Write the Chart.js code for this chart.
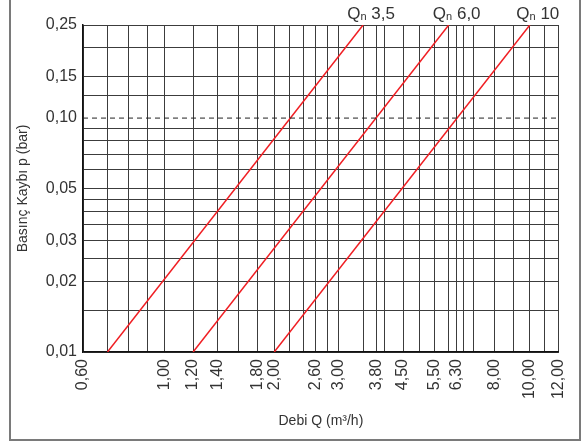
<!DOCTYPE html>
<html>
<head>
<meta charset="utf-8">
<script src="https://cdn.jsdelivr.net/npm/chart.js@4.4.1/dist/chart.umd.min.js"></script>
<style>
    body { margin: 0; background: #fff; width: 585px; height: 441px; overflow: hidden; position: relative; }
    #frame { position: absolute; left: 9px; top: -3px; width: 568px; height: 440px; border: 2px solid #7a7a7a; }
    #chart { position: absolute; left: 0; top: 0; }
</style>
</head>
<body>
<div id="frame"></div>
<canvas id="chart" width="585" height="441"></canvas>
<script>
// Kademeler (Qn) ve okunan uç noktalar
const qnNames = ['3,5', '6,0', '10'];
const qn35Flow = [0.70, 3.50];
const qn35Loss = [0.01, 0.25];
const qn60Flow = [1.20, 6.00];
const qn60Loss = [0.01, 0.25];
const qn10Flow = [2.00, 10.00];
const qn10Loss = [0.01, 0.25];

// 0,10 bar kesikli referans çizgisi
const refFlow = [0.60, 12.00];
const refLoss = [0.10, 0.10];

// Izgara çizgileri ve etiketli değerler
const xGrid = [0.6, 0.7, 0.8, 0.9, 1.0, 1.2, 1.4, 1.6, 1.8, 2.0, 2.2, 2.4, 2.6, 2.8, 3.0, 3.5, 3.8, 4.0, 4.5, 5.0, 5.5, 6.0, 6.3, 6.6, 7.0, 8.0, 9.0, 10, 11, 12];
const xLabels = [0.6, 1.0, 1.2, 1.4, 1.8, 2.0, 2.6, 3.0, 3.8, 4.5, 5.5, 6.3, 8, 10, 12];
const yGrid = [0.01, 0.015, 0.02, 0.025, 0.03, 0.035, 0.04, 0.045, 0.05, 0.06, 0.07, 0.08, 0.09, 0.10, 0.125, 0.15, 0.2, 0.25];
const yLabels = [0.01, 0.02, 0.03, 0.05, 0.10, 0.15, 0.25];

const lineRed = 'rgb(240, 30, 35)';
const gridColor = '#3c3c3c';
const textColor = '#333';

function pts(xs, ys) {
    return xs.map((x, i) => ({ x: x, y: ys[i] }));
}

function has(list, v) {
    return list.some(a => Math.abs(a - v) < 1e-9);
}

function fmt(v) {
    return v.toFixed(2).replace('.', ',');
}

// Qn etiketleri (Q + alt simge n)
const qnLabelPlugin = {
    id: 'qnLabels',
    afterDatasetsDraw(chart) {
        const ctx = chart.ctx;
        const top = chart.chartArea.top;
        ctx.save();
        ctx.fillStyle = textColor;
        ctx.textBaseline = 'alphabetic';
        chart.data.datasets.forEach((ds, i) => {
            if (!ds.qn) return;
            const meta = chart.getDatasetMeta(i);
            const p = meta.data[meta.data.length - 1];
            const big = '17px "Liberation Sans", Arial, sans-serif';
            const small = '11px "Liberation Sans", Arial, sans-serif';
            ctx.font = big;
            const wQ = ctx.measureText('Q').width;
            const wRest = ctx.measureText(' ' + ds.qn).width;
            ctx.font = small;
            const wN = ctx.measureText('n').width;
            const total = wQ + wN + wRest;
            let x = p.x + 8 - total / 2;
            const y = top - 6;
            ctx.font = big;
            ctx.fillText('Q', x, y);
            x += wQ;
            ctx.font = small;
            ctx.fillText('n', x, y + 1);
            x += wN;
            ctx.font = big;
            ctx.fillText(' ' + ds.qn, x, y);
        });
        ctx.restore();
    }
};

const redLine = (label, qn, xs, ys) => ({
    label: label,
    qn: qn,
    data: pts(xs, ys),
    borderColor: lineRed,
    borderWidth: 1.5,
    pointRadius: 0,
    fill: false,
    tension: 0
});

const ctx = document.getElementById('chart').getContext('2d');
const chart = new Chart(ctx, {
    type: 'line',
    data: {
        datasets: [
            {
                label: '0,10 bar',
                data: pts(refFlow, refLoss),
                borderColor: '#222',
                borderWidth: 1,
                borderDash: [5, 4],
                pointRadius: 0,
                fill: false
            },
            redLine('Qn 3,5', qnNames[0], qn35Flow, qn35Loss),
            redLine('Qn 6,0', qnNames[1], qn60Flow, qn60Loss),
            redLine('Qn 10', qnNames[2], qn10Flow, qn10Loss)
        ]
    },
    options: {
        responsive: false,
        animation: false,
        devicePixelRatio: 1,
        layout: { padding: { left: 0, top: 25, right: 22, bottom: 0 } },
        plugins: {
            legend: { display: false },
            tooltip: { enabled: false }
        },
        scales: {
            x: {
                type: 'logarithmic',
                min: 0.6,
                max: 12,
                afterBuildTicks: (axis) => {
                    axis.ticks = xGrid.map(v => ({ value: v }));
                },
                afterFit: (axis) => { axis.height = 89; },
                grid: {
                    color: gridColor,
                    lineWidth: 1,
                    drawTicks: false
                },
                border: { color: '#111', width: 1.5 },
                ticks: {
                    autoSkip: false,
                    minRotation: 90,
                    maxRotation: 90,
                    padding: 7,
                    color: textColor,
                    font: { family: '"Liberation Sans", Arial, sans-serif', size: 16 },
                    callback: (v) => has(xLabels, v) ? fmt(v) : ''
                },
                title: {
                    display: true,
                    text: 'Debi Q (m³/h)',
                    color: textColor,
                    font: { family: '"Liberation Sans", Arial, sans-serif', size: 14 },
                    padding: { top: 0, bottom: 11 }
                }
            },
            y: {
                type: 'logarithmic',
                min: 0.01,
                max: 0.25,
                afterBuildTicks: (axis) => {
                    axis.ticks = yGrid.map(v => ({ value: v }));
                },
                afterFit: (axis) => { axis.width = 83; },
                grid: {
                    color: (c) => (c.tick && Math.abs(c.tick.value - 0.1) < 1e-9) ? 'rgba(0,0,0,0)' : gridColor,
                    lineWidth: 1,
                    drawTicks: false
                },
                border: { color: '#111', width: 1.5 },
                ticks: {
                    autoSkip: false,
                    padding: 6,
                    color: textColor,
                    font: { family: '"Liberation Sans", Arial, sans-serif', size: 16 },
                    callback: (v) => has(yLabels, v) ? fmt(v) : ''
                },
                title: {
                    display: true,
                    text: 'Basınç Kaybı p (bar)',
                    color: textColor,
                    font: { family: '"Liberation Sans", Arial, sans-serif', size: 14 },
                    padding: { top: 15, bottom: 0 }
                }
            }
        }
    },
    plugins: [qnLabelPlugin]
});
</script>
</body>
</html>
